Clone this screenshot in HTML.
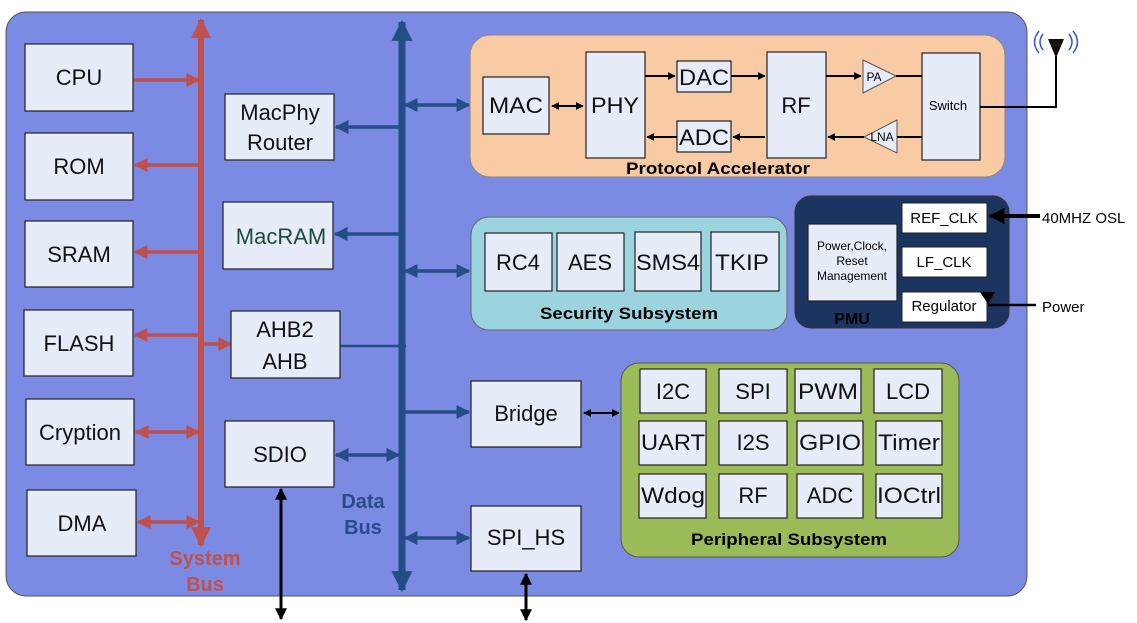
<!DOCTYPE html>
<html><head><style>
html,body{margin:0;padding:0;background:#fff;}
svg{display:block;font-family:"Liberation Sans",Arial,sans-serif;}
.b{fill:#e6ecf8;stroke:#222;stroke-width:1.2}
.t{font-size:22px;text-anchor:middle;fill:#111}
</style></head><body>
<svg width="1137" height="623" viewBox="0 0 1137 623" xmlns="http://www.w3.org/2000/svg">
<defs>
<marker id="ar" viewBox="0 0 10 10" refX="9" refY="5" markerWidth="4" markerHeight="4" orient="auto-start-reverse"><path d="M0,0L10,5L0,10z" fill="#c0504d"/></marker>
<marker id="arb" viewBox="0 0 10 10" refX="9" refY="5" markerWidth="3.3" markerHeight="3.3" orient="auto-start-reverse"><path d="M0,0L10,5L0,10z" fill="#c0504d"/></marker>
<marker id="ab" viewBox="0 0 10 10" refX="9" refY="5" markerWidth="4" markerHeight="4" orient="auto-start-reverse"><path d="M0,0L10,5L0,10z" fill="#254d85"/></marker>
<marker id="abb" viewBox="0 0 10 10" refX="9" refY="5" markerWidth="3" markerHeight="3" orient="auto-start-reverse"><path d="M0,0L10,5L0,10z" fill="#254d85"/></marker>
<marker id="ak" viewBox="0 0 10 10" refX="9" refY="5" markerWidth="4" markerHeight="4" orient="auto-start-reverse"><path d="M0,0L10,5L0,10z" fill="#000"/></marker>
</defs>
<rect x="6" y="12" width="1021" height="584" rx="20" fill="#7b8ae3" stroke="#555" stroke-width="1"/>

<line x1="201" y1="545" x2="201" y2="20" stroke="#c0504d" stroke-width="6" marker-end="url(#arb)" marker-start="url(#arb)"/>
<g stroke="#c0504d" stroke-width="3.5" fill="none">
<line x1="133" y1="80" x2="199" y2="80" marker-end="url(#ar)"/>
<line x1="199" y1="165" x2="135" y2="165" marker-end="url(#ar)"/>
<line x1="199" y1="252" x2="135" y2="252" marker-end="url(#ar)"/>
<line x1="199" y1="335" x2="135" y2="335" marker-end="url(#ar)"/>
<line x1="201" y1="344" x2="231" y2="344" marker-end="url(#ar)"/>
<line x1="136" y1="432" x2="199" y2="432" marker-end="url(#ar)" marker-start="url(#ar)"/>
<line x1="138" y1="522" x2="199" y2="522" marker-end="url(#ar)" marker-start="url(#ar)"/>
</g>
<text x="205" y="565" font-size="20" font-weight="bold" fill="#c0504d" text-anchor="middle">System</text>
<text x="205" y="591" font-size="20" font-weight="bold" fill="#c0504d" text-anchor="middle">Bus</text>

<line x1="402" y1="590" x2="402" y2="22" stroke="#254d85" stroke-width="7" marker-end="url(#abb)" marker-start="url(#abb)"/>
<g stroke="#254d85" stroke-width="3.5" fill="none">
<line x1="400" y1="127" x2="336" y2="127" marker-end="url(#ab)"/>
<line x1="400" y1="234" x2="335" y2="234" marker-end="url(#ab)"/>
<line x1="405" y1="105" x2="469" y2="105" marker-end="url(#ab)" marker-start="url(#ab)"/>
<line x1="405" y1="271" x2="469" y2="271" marker-end="url(#ab)" marker-start="url(#ab)"/>
<line x1="340" y1="346" x2="406" y2="346" stroke-width="2.5"/>
<line x1="405" y1="412" x2="469" y2="412" marker-end="url(#ab)"/>
<line x1="336" y1="455" x2="399" y2="455" marker-end="url(#ab)" marker-start="url(#ab)"/>
<line x1="405" y1="538" x2="469" y2="538" marker-end="url(#ab)" marker-start="url(#ab)"/>
</g>
<text x="363" y="508" font-size="20" font-weight="bold" fill="#2a4a8a" text-anchor="middle">Data</text>
<text x="363" y="534" font-size="20" font-weight="bold" fill="#2a4a8a" text-anchor="middle">Bus</text>

<rect class="b" x="25" y="44" width="108" height="67"/><text class="t" x="79" y="85">CPU</text>
<rect class="b" x="25" y="133" width="108" height="67"/><text class="t" x="79" y="174">ROM</text>
<rect class="b" x="25" y="221" width="108" height="66"/><text class="t" x="79" y="262">SRAM</text>
<rect class="b" x="24" y="310" width="109" height="66"/><text class="t" x="79" y="351">FLASH</text>
<rect class="b" x="26" y="399" width="108" height="66"/><text class="t" x="80" y="440">Cryption</text>
<rect class="b" x="27" y="490" width="109" height="66"/><text class="t" x="82" y="531">DMA</text>

<rect class="b" x="225" y="94" width="109" height="66"/><text class="t" x="280" y="120">MacPhy</text><text class="t" x="280" y="150">Router</text>
<rect class="b" x="223" y="202" width="110" height="67"/><text class="t" x="281" y="244" style="fill:#1d4a3a">MacRAM</text>
<rect class="b" x="231" y="311" width="109" height="67"/><text class="t" x="285" y="337">AHB2</text><text class="t" x="285" y="369">AHB</text>
<rect class="b" x="225" y="421" width="109" height="66"/><text class="t" x="280" y="462">SDIO</text>
<line x1="281" y1="489" x2="281" y2="619" stroke="#000" stroke-width="3" marker-end="url(#ak)" marker-start="url(#ak)"/>

<rect x="470" y="35" width="535" height="142" rx="20" fill="#f8cba5" stroke="#888"/>
<rect class="b" x="483" y="77" width="66" height="57"/><text class="t" x="516" y="113" textLength="54" lengthAdjust="spacingAndGlyphs">MAC</text>
<rect class="b" x="586" y="52" width="59" height="106"/><text class="t" x="615" y="113" textLength="48" lengthAdjust="spacingAndGlyphs">PHY</text>
<rect class="b" x="677" y="61" width="54" height="31"/><text class="t" x="704" y="85" textLength="50" lengthAdjust="spacingAndGlyphs">DAC</text>
<rect class="b" x="677" y="121" width="54" height="31"/><text class="t" x="704" y="145" textLength="50" lengthAdjust="spacingAndGlyphs">ADC</text>
<rect class="b" x="767" y="52" width="59" height="106"/><text class="t" x="796" y="113">RF</text>
<rect class="b" x="922" y="53" width="58" height="107"/><text x="948" y="110" font-size="13" text-anchor="middle">Switch</text>
<polygon points="863,60 896,76 863,93" fill="#e6ecf8" stroke="#555"/><text x="874" y="81" font-size="12" text-anchor="middle">PA</text>
<polygon points="897,120 864,137 897,153" fill="#e6ecf8" stroke="#555"/><text x="882" y="141" font-size="12" text-anchor="middle">LNA</text>
<g stroke="#000" stroke-width="2" fill="none">
<line x1="552" y1="106" x2="583" y2="106" marker-end="url(#ak)" marker-start="url(#ak)"/>
<line x1="645" y1="76" x2="675" y2="76" marker-end="url(#ak)"/>
<line x1="731" y1="76" x2="765" y2="76" marker-end="url(#ak)"/>
<line x1="826" y1="76" x2="861" y2="76" marker-end="url(#ak)"/>
<line x1="896" y1="76" x2="922" y2="76"/>
<line x1="765" y1="137" x2="733" y2="137" marker-end="url(#ak)"/>
<line x1="677" y1="137" x2="647" y2="137" marker-end="url(#ak)"/>
<line x1="864" y1="137" x2="828" y2="137" marker-end="url(#ak)"/>
<line x1="922" y1="137" x2="897" y2="137"/>
<polyline points="980,107 1056,107 1056,46"/>
</g>
<polygon points="1048,39 1064,39 1056,58" fill="#111"/>
<path d="M1043,34 q-6,8 0,16 M1039,31 q-9,11 0,22 M1069,34 q6,8 0,16 M1073,31 q9,11 0,22" stroke="#3355cc" fill="none" stroke-width="1.5"/>
<text x="718" y="174" font-size="17" font-weight="bold" text-anchor="middle" textLength="184" lengthAdjust="spacingAndGlyphs">Protocol Accelerator</text>

<rect x="471" y="217" width="316" height="113" rx="18" fill="#9bd3df" stroke="#666"/>
<rect class="b" x="485" y="233" width="67" height="58"/><text class="t" x="518" y="270">RC4</text>
<rect class="b" x="557" y="233" width="67" height="58"/><text class="t" x="590" y="270">AES</text>
<rect class="b" x="635" y="232" width="66" height="59"/><text class="t" x="668" y="270" textLength="64" lengthAdjust="spacingAndGlyphs">SMS4</text>
<rect class="b" x="711" y="232" width="68" height="59"/><text class="t" x="742" y="270" textLength="54" lengthAdjust="spacingAndGlyphs">TKIP</text>
<text x="629" y="319" font-size="17" font-weight="bold" text-anchor="middle" textLength="178" lengthAdjust="spacingAndGlyphs">Security Subsystem</text>

<rect x="795" y="196" width="214" height="132" rx="16" fill="#1c3460" stroke="#333"/>
<rect class="b" x="808" y="224" width="89" height="77"/>
<text x="852" y="250" font-size="12" text-anchor="middle">Power,Clock,</text>
<text x="852" y="265" font-size="12" text-anchor="middle">Reset</text>
<text x="852" y="280" font-size="12" text-anchor="middle">Management</text>
<rect x="902" y="203" width="85" height="30" fill="#fff" stroke="#222"/><text x="944" y="223" font-size="15" text-anchor="middle">REF_CLK</text>
<rect x="902" y="247" width="85" height="30" fill="#fff" stroke="#222"/><text x="944" y="267" font-size="15" text-anchor="middle">LF_CLK</text>
<rect x="902" y="292" width="85" height="30" fill="#fff" stroke="#222"/><text x="944" y="311" font-size="15" text-anchor="middle">Regulator</text>
<text x="852" y="324" font-size="16" font-weight="bold" text-anchor="middle" fill="#000">PMU</text>
<line x1="1040" y1="216" x2="990" y2="216" stroke="#000" stroke-width="4" marker-end="url(#ak)"/>
<text x="1042" y="223" font-size="15">40MHZ OSL</text>
<line x1="1036" y1="305" x2="988" y2="305" stroke="#000" stroke-width="2.5"/>
<polygon points="980,292 995,292 988,304" fill="#000"/>
<text x="1042" y="312" font-size="15">Power</text>

<rect class="b" x="471" y="381" width="110" height="66"/><text class="t" x="526" y="421">Bridge</text>
<rect class="b" x="471" y="506" width="110" height="65"/><text class="t" x="526" y="545">SPI_HS</text>
<line x1="584" y1="413" x2="619" y2="413" stroke="#000" stroke-width="2" marker-end="url(#ak)" marker-start="url(#ak)"/>
<line x1="526" y1="574" x2="526" y2="620" stroke="#000" stroke-width="3" marker-end="url(#ak)" marker-start="url(#ak)"/>

<rect x="621" y="363" width="338" height="194" rx="18" fill="#9bbb59" stroke="#555"/>
<rect class="b" x="640" y="369" width="66" height="44"/><text class="t" x="673" y="399">I2C</text>
<rect class="b" x="719" y="369" width="68" height="44"/><text class="t" x="753" y="399">SPI</text>
<rect class="b" x="795" y="369" width="66" height="44"/><text class="t" x="828" y="399" textLength="60" lengthAdjust="spacingAndGlyphs">PWM</text>
<rect class="b" x="874" y="369" width="68" height="44"/><text class="t" x="908" y="399">LCD</text>
<rect class="b" x="639" y="421" width="67" height="44"/><text class="t" x="673" y="450" textLength="64" lengthAdjust="spacingAndGlyphs">UART</text>
<rect class="b" x="719" y="421" width="68" height="44"/><text class="t" x="753" y="450">I2S</text>
<rect class="b" x="797" y="421" width="66" height="44"/><text class="t" x="830" y="450" textLength="62" lengthAdjust="spacingAndGlyphs">GPIO</text>
<rect class="b" x="876" y="421" width="66" height="44"/><text class="t" x="909" y="450" textLength="62" lengthAdjust="spacingAndGlyphs">Timer</text>
<rect class="b" x="639" y="474" width="67" height="44"/><text class="t" x="673" y="503" textLength="64" lengthAdjust="spacingAndGlyphs">Wdog</text>
<rect class="b" x="719" y="474" width="68" height="44"/><text class="t" x="753" y="503">RF</text>
<rect class="b" x="797" y="474" width="66" height="44"/><text class="t" x="830" y="503">ADC</text>
<rect class="b" x="876" y="474" width="66" height="44"/><text class="t" x="909" y="503" textLength="64" lengthAdjust="spacingAndGlyphs">IOCtrl</text>
<text x="789" y="545" font-size="17" font-weight="bold" text-anchor="middle" textLength="196" lengthAdjust="spacingAndGlyphs">Peripheral Subsystem</text>
</svg>
</body></html>
